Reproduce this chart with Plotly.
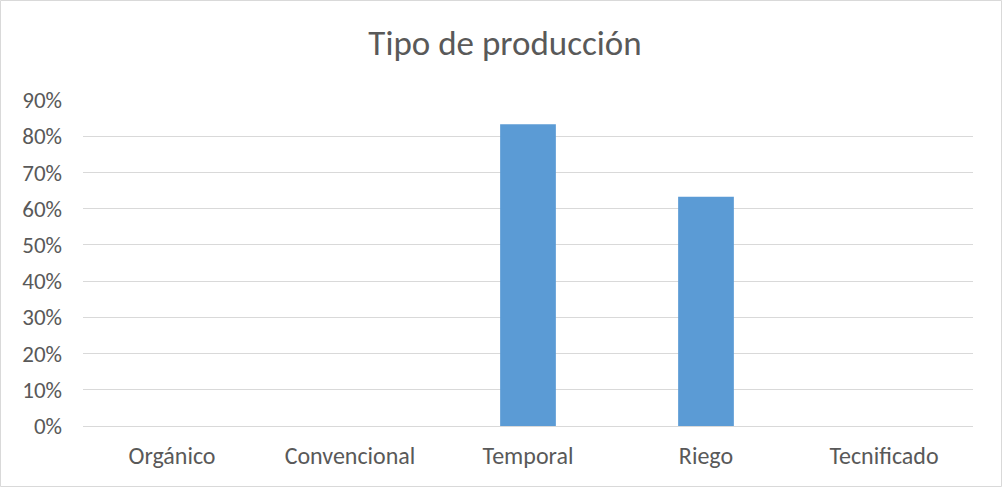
import plotly.graph_objects as go

categories = ["Orgánico", "Convencional", "Temporal", "Riego", "Tecnificado"]
values = [0, 0, 0.833, 0.633, 0]
tick_vals = [0, 0.1, 0.2, 0.3, 0.4, 0.5, 0.6, 0.7, 0.8, 0.9]
tick_text = ["0%", "10%", "20%", "30%", "40%", "50%", "60%", "70%", "80%", "90%"]
title = "Tipo de producción"

W, H = 1002, 487
ml, mr, mt, mb = 83, 29, 100, 61
pw, ph = W - ml - mr, H - mt - mb
FONT = "Carlito, Lato, Calibri, sans-serif"

fig = go.Figure(go.Bar(x=categories, y=values, marker=dict(color="#5b9bd5", line=dict(width=0)),
                       hoverinfo="skip"))
fig.update_layout(
    width=W, height=H,
    margin=dict(l=ml, r=mr, t=mt, b=mb),
    paper_bgcolor="white", plot_bgcolor="white",
    bargap=0.687,
    showlegend=False,
    font=dict(family=FONT, color="#595959", size=24),
    title=dict(text=title, xref="container", x=505 / W, xanchor="center",
               y=1 - 43 / H, yanchor="middle",
               font=dict(size=35, color="#595959", family=FONT)),
    xaxis=dict(showgrid=False, showline=True, linecolor="#d9d9d9", linewidth=1,
               ticks="", ticklabelstandoff=8, tickfont=dict(size=24, color="#595959")),
    yaxis=dict(range=[0, 0.9], tickvals=tick_vals, ticktext=tick_text, showgrid=True,
               gridcolor="#d9d9d9", gridwidth=1, zeroline=False, showline=False,
               ticks="", ticklabelstandoff=20, tickfont=dict(size=23, color="#595959")),
    shapes=[dict(type="rect", xref="paper", yref="paper",
                 x0=(-ml + 0.5) / pw, x1=1 + (mr - 0.5) / pw,
                 y0=(-mb + 0.5) / ph, y1=1 + (mt - 0.5) / ph,
                 line=dict(color="#d9d9d9", width=1), layer="below")],
)
fig.write_html("out.html")
